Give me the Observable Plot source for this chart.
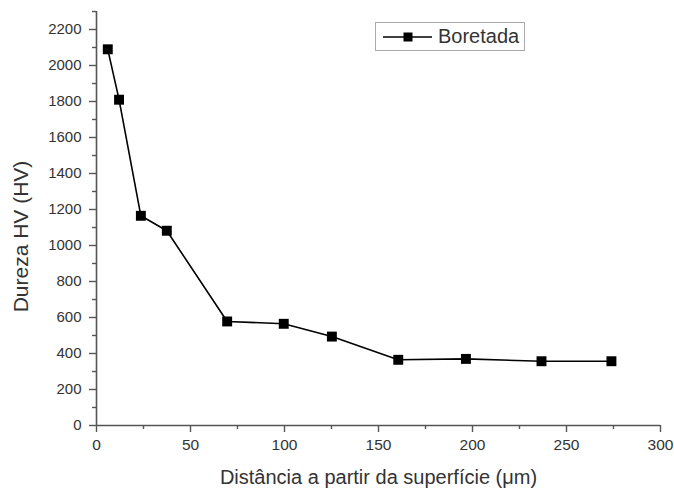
<!DOCTYPE html>
<html>
<head>
<meta charset="utf-8">
<script src="https://cdn.jsdelivr.net/npm/d3@7"></script>
<script src="https://cdn.jsdelivr.net/npm/@observablehq/plot@0.6"></script>
<style>
  body { margin: 0; background: #fff; }
  #wrap { position: relative; width: 674px; height: 489px; font-family: "Liberation Sans", Arial, sans-serif; }
  #legend { position: absolute; left: 375px; top: 22px; width: 150px; height: 29px; border: 1px solid #aaa; box-sizing: border-box; background: #fff; }
  #legend svg { position: absolute; left: 0; top: 0; }
  #legend span { position: absolute; left: 62px; top: 2px; font-size: 20px; line-height: 23px; color: #333; }
</style>
</head>
<body>
<div id="wrap">
  <div id="chart"></div>
  <div id="legend">
    <svg width="60" height="27"><line x1="7" x2="56" y1="14" y2="14" stroke="#000" stroke-width="1.6"/><rect x="27.5" y="9.5" width="9" height="9" fill="#000"/></svg>
    <span id="legendText"></span>
  </div>
</div>
<script>
const seriesName = "Boretada";
const distance = [6, 12, 23.6, 37.4, 69.5, 99.6, 125.2, 160.5, 196.5, 236.7, 273.9];
const hardness = [2090, 1810, 1165, 1082, 578, 565, 494, 365, 370, 357, 357];
const xTicks = [0, 50, 100, 150, 200, 250, 300];
const xMinor = [25, 75, 125, 175, 225, 275];
const yTicks = [0, 200, 400, 600, 800, 1000, 1200, 1400, 1600, 1800, 2000, 2200];
const yMinor = [100, 300, 500, 700, 900, 1100, 1300, 1500, 1700, 1900, 2100, 2300];
const xTitle = "Distância a partir da superfície (μm)";
const yTitle = "Dureza HV (HV)";

const data = distance.map((d, i) => ({x: d, y: hardness[i]}));
document.getElementById("legendText").textContent = seriesName;

const axisColor = "#555";
const fmt = d => String(d);
const chart = Plot.plot({
  width: 674,
  height: 489,
  marginLeft: 96,
  marginRight: 14,
  marginTop: 11,
  marginBottom: 64,
  style: {fontFamily: "Liberation Sans, Arial, sans-serif", fontSize: "15px", color: "#333", background: "#fff"},
  x: {domain: [0, 300]},
  y: {domain: [0, 2300]},
  marks: [
    Plot.axisX({ticks: xTicks, tickSize: 7, tickPadding: 6, tickFormat: fmt, label: null, stroke: axisColor, strokeWidth: 1.4, fontSize: 15.5}),
    Plot.axisX({ticks: xMinor, tickSize: 4, tickFormat: () => "", label: null, stroke: axisColor, strokeWidth: 1.4}),
    Plot.axisY({ticks: yTicks, tickSize: 7, tickPadding: 8, tickFormat: fmt, label: null, stroke: axisColor, strokeWidth: 1.4, fontSize: 15}),
    Plot.axisY({ticks: yMinor, tickSize: 4, tickFormat: () => "", label: null, stroke: axisColor, strokeWidth: 1.4}),
    Plot.ruleX([0], {stroke: axisColor, strokeWidth: 1.6}),
    Plot.ruleY([0], {stroke: axisColor, strokeWidth: 1.6}),
    Plot.line(data, {x: "x", y: "y", stroke: "#000", strokeWidth: 1.6}),
    Plot.dot(data, {x: "x", y: "y", symbol: "square", r: 5.6, fill: "#000", stroke: "none"}),
    Plot.text([xTitle], {frameAnchor: "bottom", dy: 58, text: d => d, fontSize: 20, fill: "#333", textAnchor: "middle", lineAnchor: "bottom"}),
    Plot.text([yTitle], {frameAnchor: "left", dx: -75, dy: 18, rotate: -90, text: d => d, fontSize: 21, fill: "#333", textAnchor: "middle", lineAnchor: "middle"})
  ]
});
document.getElementById("chart").appendChild(chart);
</script>
</body>
</html>
